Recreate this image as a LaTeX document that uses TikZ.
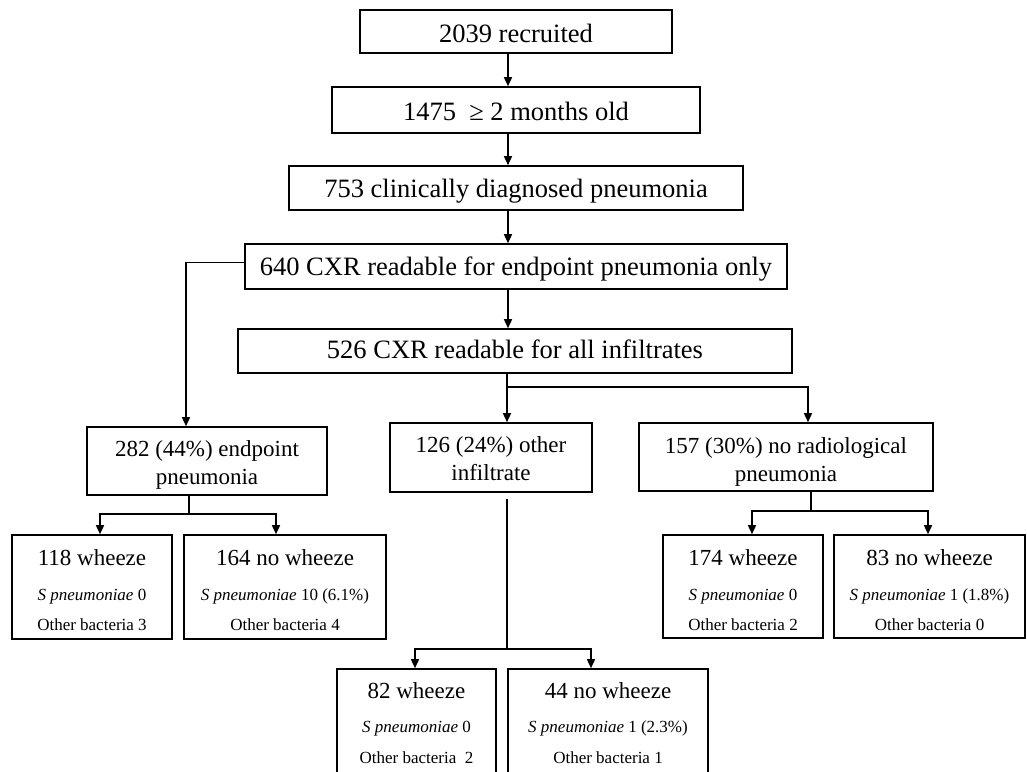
\documentclass[tikz,border=0pt]{standalone}
\usepackage{fontspec}
\setmainfont{Liberation Serif}
\usetikzlibrary{arrows.meta}
\newcommand{\bx}[6]{\parbox[c][#2][t]{#1}{\centering\fontsize{#3}{#4}\selectfont\rule{0pt}{#5}#6}}
\tikzset{
  box/.style={draw, line width=1.6pt, inner sep=0pt, rectangle},
  conn/.style={line width=1.5pt},
  arr/.style={line width=1.5pt, -{Triangle[length=9pt,width=8pt]}}
}
\begin{document}
\begin{tikzpicture}[x=1pt,y=-1pt]
\useasboundingbox (0,0) rectangle (1027,771);
% top chain
\node[box] (b1) at (516,31.5) {\bx{312pt}{43pt}{26.5}{30}{32pt}{2039 recruited}};
\node[box] (b2) at (516,110) {\bx{368pt}{46pt}{26.5}{30}{33pt}{1475\ \ ≥ 2 months old}};
\node[box] (b3) at (516,188) {\bx{454pt}{44pt}{26.5}{30}{31pt}{753 clinically diagnosed pneumonia}};
\node[box] (b4) at (516,266.5) {\bx{542pt}{45pt}{26.5}{30}{31pt}{640 CXR readable for endpoint pneumonia only}};
\node[box] (b5) at (515,351) {\bx{554pt}{44pt}{26.5}{30}{29pt}{526 CXR readable for all infiltrates}};
% second level
\node[box] (b6) at (207,461) {\bx{240pt}{68pt}{23}{28}{29pt}{282 (44\%) endpoint\\pneumonia}};
\node[box] (b7) at (491,457.5) {\bx{202pt}{69pt}{23}{28}{29pt}{126 (24\%) other\\infiltrate}};
\node[box] (b8) at (786,457) {\bx{294pt}{68pt}{23}{28}{30pt}{157 (30\%) no radiological\\pneumonia}};
% third level
\node[box] (c1) at (92,587) {\bx{160pt}{104pt}{23}{23}{30pt}{118 wheeze\par\fontsize{17}{35}\selectfont\textit{S pneumoniae} 0\par\fontsize{17}{30}\selectfont Other bacteria 3}};
\node[box] (c2) at (285,587) {\bx{202pt}{104pt}{23}{23}{30pt}{164 no wheeze\par\fontsize{17}{35}\selectfont\textit{S pneumoniae} 10 (6.1\%)\par\fontsize{17}{30}\selectfont Other bacteria 4}};
\node[box] (c3) at (743,586.5) {\bx{160pt}{103pt}{23}{23}{30pt}{174 wheeze\par\fontsize{17}{35}\selectfont\textit{S pneumoniae} 0\par\fontsize{17}{30}\selectfont Other bacteria 2}};
\node[box] (c4) at (929.5,586.5) {\bx{191pt}{103pt}{23}{23}{30pt}{83 no wheeze\par\fontsize{17}{35}\selectfont\textit{S pneumoniae} 1 (1.8\%)\par\fontsize{17}{30}\selectfont Other bacteria 0}};
% bottom level (cut by the page edge)
\node[box] (d1) at (416.5,724) {\bx{159pt}{110pt}{23}{23}{29pt}{82 wheeze\par\fontsize{17}{34}\selectfont\textit{S pneumoniae} 0\par\fontsize{17}{31}\selectfont Other bacteria\ \ 2}};
\node[box] (d2) at (608,724) {\bx{200pt}{110pt}{23}{23}{29pt}{44 no wheeze\par\fontsize{17}{34}\selectfont\textit{S pneumoniae} 1 (2.3\%)\par\fontsize{17}{31}\selectfont Other bacteria 1}};
% connectors
\coordinate (sp) at (508,0);
\draw[arr] (b1.south -| sp) -- (b2.north -| sp);
\draw[arr] (b2.south -| sp) -- (b3.north -| sp);
\draw[arr] (b3.south -| sp) -- (b4.north -| sp);
\draw[arr] (b4.south -| sp) -- (b5.north -| sp);
\draw[arr] ([yshift=4pt]b4.west) -| ([xshift=-21pt]b6.north);
\coordinate (m) at (507,0);
\coordinate (j1) at (507,387);
\draw[arr] (b5.south -| m) -- (b7.north -| m);
\draw[arr] (j1) -| ([xshift=22pt]b8.north);
\coordinate (j2) at (189,514);
\draw[conn] (b6.south -| j2) -- (j2);
\draw[arr] (j2) -| ([xshift=8pt]c1.north);
\draw[arr] (j2) -| ([xshift=-9pt]c2.north);
\coordinate (j3) at (811,511);
\draw[conn] (b8.south -| j3) -- (j3);
\draw[arr] (j3) -| ([xshift=9pt]c3.north);
\draw[arr] (j3) -| ([xshift=-1.5pt]c4.north);
\coordinate (j4) at (507,649);
\draw[conn] ([yshift=-6pt]b7.south -| j4) -- (j4);
\draw[arr] (j4) -| ([xshift=-1.5pt]d1.north);
\draw[arr] (j4) -| ([xshift=-17pt]d2.north);
\end{tikzpicture}
\end{document}
